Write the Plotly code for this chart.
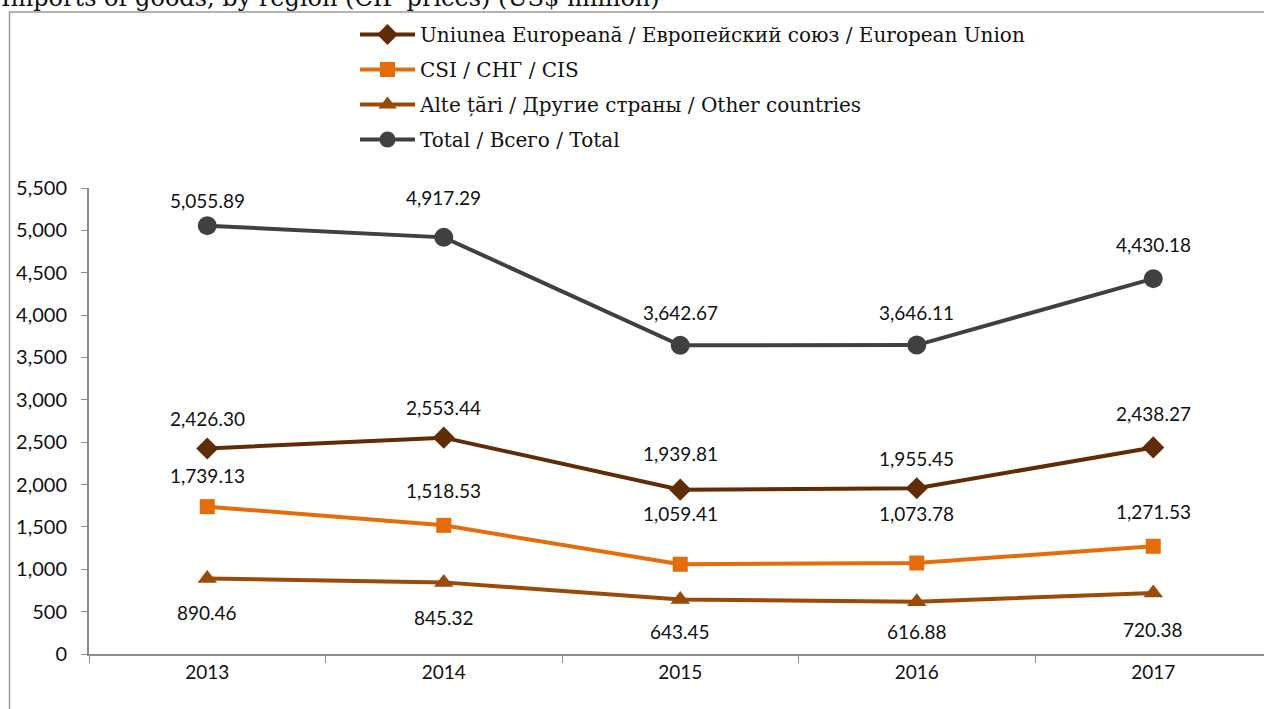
import plotly.graph_objects as go

years = ["2013", "2014", "2015", "2016", "2017"]
eu = [2426.30, 2553.44, 1939.81, 1955.45, 2438.27]
cis = [1739.13, 1518.53, 1059.41, 1073.78, 1271.53]
other = [890.46, 845.32, 643.45, 616.88, 720.38]
total = [5055.89, 4917.29, 3642.67, 3646.11, 4430.18]

names = {
    "eu": "Uniunea Europeană / Европейский союз / European Union",
    "cis": "CSI / СНГ / CIS",
    "other": "Alte țări / Другие страны / Other countries",
    "total": "Total / Всего / Total",
}
title_text = "Imports of goods, by region (CIF prices) (US$ million)"

# label offsets (pixels) per series/point
off_eu = [30, 30, 36, 30, 34]
off_cis = [31, 35, 51, 50, 35]
off_other = [-34, -35, -32, -30, -37]
off_total = [25, 40, 33, 33, 34]

series = [
    ("eu", eu, "#5f2c06", "diamond", 17, off_eu),
    ("cis", cis, "#e46c0a", "square", 15, off_cis),
    ("other", other, "#9a4a08", "triangle-up", 17, off_other),
    ("total", total, "#404040", "circle", 19, off_total),
]

fig = go.Figure()
annotations = []
for i, (key, vals, color, sym, msize, offs) in enumerate(series):
    fig.add_trace(go.Scatter(
        x=years, y=vals, name=names[key], mode="lines+markers",
        line=dict(color=color, width=4),
        marker=dict(symbol=sym, size=msize, color=color),
        legendgroup=key, legendrank=i + 1,
    ))
    for j, (v, o) in enumerate(zip(vals, offs)):
        annotations.append(dict(
            x=j, y=v, xref="x", yref="y", text=f"{v:,.2f}", showarrow=False,
            yshift=o, font=dict(family="Lato", size=19, color="#111111"),
        ))

W, H = 1264, 709
L, R, T, B = 89, 0, 188, 55
pw, ph = W - L - R, H - T - B

def px_x(p):
    return (p - L) / pw

def px_y(p):
    return (H - B - p) / ph

annotations.append(dict(
    x=px_x(-1), y=px_y(14), xref="paper", yref="paper", xanchor="left", yanchor="bottom",
    text=title_text, showarrow=False,
    font=dict(family="DejaVu Serif", size=24, color="#111111"),
))

fig.update_layout(
    width=W, height=H,
    margin=dict(l=L, r=R, t=T, b=B, autoexpand=False),
    paper_bgcolor="white", plot_bgcolor="white",
    showlegend=True,
    legend=dict(
        x=px_x(355), y=px_y(15), xanchor="left", yanchor="top",
        font=dict(family="DejaVu Serif", size=20, color="#111111"),
        tracegroupgap=6, itemwidth=55, bgcolor="rgba(0,0,0,0)",
        traceorder="grouped",
    ),
    annotations=annotations,
    shapes=[dict(
        type="rect", xref="paper", yref="paper",
        x0=px_x(9.5), x1=px_x(1275), y0=px_y(720), y1=px_y(12),
        line=dict(color="#9a9a9a", width=1.5), fillcolor="rgba(0,0,0,0)", layer="below",
    )],
)
fig.update_xaxes(
    type="category", range=[-0.5, -0.5 + pw / 236.5],
    showline=True, linecolor="#8c8c8c", linewidth=2,
    ticks="outside", tickson="boundaries", ticklen=7, tickcolor="#8c8c8c", tickwidth=1,
    showgrid=False, zeroline=False,
    tickfont=dict(family="Lato", size=19, color="#111111"),
)
fig.update_yaxes(
    range=[0, 5500], dtick=500, tickformat=",",
    showline=True, linecolor="#8c8c8c", linewidth=2,
    ticks="outside", ticklen=6, tickcolor="#8c8c8c", tickwidth=1,
    ticklabelstandoff=10,
    showgrid=False, zeroline=False,
    tickfont=dict(family="Lato", size=20, color="#111111"),
)

fig.write_html(
    "out.html",
    config={"displayModeBar": False},
    post_script="document.body.style.margin='0';document.body.style.overflow='hidden';",
)
